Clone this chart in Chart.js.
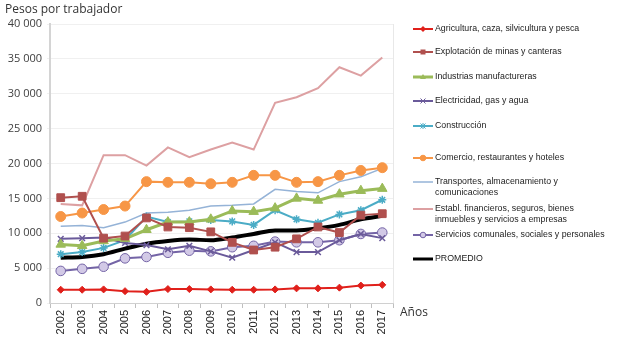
<!DOCTYPE html>
<html><head><meta charset="utf-8">
<script src="https://cdn.jsdelivr.net/npm/chart.js@4/dist/chart.umd.min.js"></script>
<style>
html,body{margin:0;padding:0;background:#fff;}
#wrap{position:relative;width:619px;height:351px;overflow:hidden;}
#c{position:absolute;left:0;top:0;}
.t{position:absolute;font-family:"Open Sans",sans-serif;color:#333;white-space:nowrap;}
.li{position:absolute;left:412px;font-family:"Liberation Sans",Arial,sans-serif;font-size:8.8px;color:#222;line-height:11px;}
.li canvas{position:absolute;left:0;top:0}
.li span{position:absolute;left:23px;top:0;white-space:nowrap}
</style></head>
<body><div id="wrap"><canvas id="c" width="619" height="351"></canvas>
<div class="t" style="left:5px;top:0px;font-size:12px">Pesos por trabajador</div>
<div class="t" style="left:400px;top:303px;font-size:12px">Años</div>
<div id="legend"></div></div>
<script>
const years = ['2002','2003','2004','2005','2006','2007','2008','2009','2010','2011','2012','2013','2014','2015','2016','2017'];
const agricultura = [1900,1900,1950,1700,1600,2000,2000,1950,1900,1900,1950,2100,2100,2200,2500,2600];
const explotacion = [15100,15300,9300,9600,12200,10900,10800,10200,8700,7600,8000,9200,10900,10100,12600,12800];
const industrias = [8400,8200,8900,9200,10500,11600,11600,12000,13200,13100,13600,15000,14700,15600,16100,16400];
const electricidad = [9200,9300,9400,8600,8300,7700,8200,7400,6500,7600,8700,7300,7300,9000,9900,9300];
const construccion = [7000,7300,7900,9000,12400,11600,11700,11900,11700,11200,13300,12000,11500,12700,13300,14800];
const comercio = [12400,12900,13400,13900,17400,17300,17300,17100,17300,18300,18300,17300,17400,18300,19000,19400];
const transportes = [11000,11100,10800,11600,12900,13000,13300,13900,14000,14200,16300,16000,15800,17400,18100,19300];
const establ = [14200,14000,21200,21200,19700,22300,20900,22000,23000,22000,28700,29500,30800,33800,32600,35200];
const servicios = [4600,4900,5200,6400,6600,7200,7500,7400,8000,8200,8800,8700,8700,9000,9900,10100];
const promedio = [6500,6600,7000,7800,8500,8900,9100,9000,9400,9900,10400,10400,10700,11200,12000,12500];
const yTicks = [0,5000,10000,15000,20000,25000,30000,35000,40000];

const series = [
  {label:['Agricultura, caza, silvicultura y pesca'], data:agricultura, color:'#E0201B', bw:2, style:'rectRot', r:3.5, bg:'#E0201B', ly:29},
  {label:['Explotación de minas y canteras'], data:explotacion, color:'#B0504E', bw:2, style:'rect', r:5.5, bg:'#B0504E', ly:52},
  {label:['Industrias manufactureras'], data:industrias, color:'#9BBB59', bw:3, style:'triangle', r:5.5, bg:'#9BBB59', ly:77},
  {label:['Electricidad, gas y agua'], data:electricidad, color:'#6A5A9A', bw:2, style:'crossRot', r:4, bg:'#6A5A9A', ly:101},
  {label:['Construcción'], data:construccion, color:'#4BACC6', bw:2, style:'star', r:4, bg:'#4BACC6', ly:126},
  {label:['Comercio, restaurantes y hoteles'], data:comercio, color:'#F79646', bw:2, style:'circle', r:5, bg:'#F79646', ly:158},
  {label:['Transportes, almacenamiento y','comunicaciones'], data:transportes, color:'#95B3D7', bw:1.5, style:false, r:0, bg:'#95B3D7', ly:182},
  {label:['Establ. financieros, seguros, bienes','inmuebles  y servicios a empresas'], data:establ, color:'#DDA0A2', bw:2, style:false, r:0, bg:'#DDA0A2', ly:209},
  {label:['Servicios comunales, sociales y personales'], data:servicios, color:'#7464A6', bw:2, style:'circle', r:4.8, bg:'#D2C9E6', ly:235},
  {label:['PROMEDIO'], data:promedio, color:'#000000', bw:4, style:false, r:0, bg:'#000', ly:259, smooth:true}
];

const datasets = series.map(s => ({
  label: s.label.join(' '),
  data: s.data,
  borderColor: s.color,
  backgroundColor: s.bg,
  borderWidth: s.bw,
  pointStyle: s.style || 'circle',
  pointRadius: s.r,
  pointBorderColor: s.color,
  pointBackgroundColor: s.bg,
  pointBorderWidth: s.style==='crossRot'||s.style==='star' ? 1.5 : 1,
  tension: s.smooth ? 0.4 : 0,
  cubicInterpolationMode: s.smooth ? 'monotone' : 'default',
  fill:false
}));

const borderPlugin = {
  id:'border',
  beforeDatasetsDraw(chart){
    const a = chart.chartArea, ctx = chart.ctx;
    ctx.save();
    ctx.strokeStyle = '#e8e8e8'; ctx.lineWidth = 1;
    ctx.beginPath(); ctx.moveTo(a.right+0.5, a.top); ctx.lineTo(a.right+0.5, a.bottom); ctx.stroke();
    ctx.restore();
  }
};

new Chart(document.getElementById('c'), {
  type:'line',
  data:{labels:years, datasets},
  options:{
    responsive:false, animation:false,
    layout:{padding:{left:0, top:24, right:226, bottom:0}},
    plugins:{legend:{display:false}, tooltip:{enabled:false}},
    scales:{
      x:{
        offset:true,
        afterFit(s){ s.height = 48; },
        grid:{display:true, drawOnChartArea:false, offset:true, tickLength:5, color:'#bfbfbf'},
        border:{color:'#d0d0d0', width:1},
        ticks:{maxRotation:90, minRotation:90, padding:2, color:'#222', font:{family:'Liberation Sans', size:11}}
      },
      y:{
        min:0, max:40000,
        afterFit(s){ s.width = 50; },
        afterBuildTicks(s){ s.ticks = yTicks.map(v=>({value:v})); },
        grid:{color:'#f0f0f0', tickLength:3},
        border:{color:'#d4d4d4', width:2},
        ticks:{padding:5, color:'#404040', font:{family:'Open Sans', size:11},
          callback:v => String(v).replace(/\B(?=(\d{3})+(?!\d))/g,' ')}
      }
    }
  },
  plugins:[borderPlugin]
});

function drawSym(ctx, s, cx, cy){
  ctx.strokeStyle = s.color; ctx.fillStyle = s.bg;
  ctx.lineWidth = Math.min(s.bw, 3);
  ctx.beginPath(); ctx.moveTo(1, cy); ctx.lineTo(21, cy); ctx.stroke();
  if(!s.style) return;
  const r = Math.min(s.r, 3.5);
  ctx.lineWidth = 1;
  ctx.beginPath();
  switch(s.style){
    case 'circle': ctx.arc(cx,cy,r*0.8,0,Math.PI*2); ctx.fill(); ctx.stroke(); break;
    case 'rect': ctx.rect(cx-2.5,cy-2.5,5,5); ctx.fill(); break;
    case 'rectRot': ctx.moveTo(cx,cy-3);ctx.lineTo(cx+3,cy);ctx.lineTo(cx,cy+3);ctx.lineTo(cx-3,cy);ctx.closePath();ctx.fill();break;
    case 'triangle': ctx.moveTo(cx,cy-3);ctx.lineTo(cx+3,cy+2);ctx.lineTo(cx-3,cy+2);ctx.closePath();ctx.fill();break;
    case 'crossRot': ctx.moveTo(cx-2.5,cy-2.5);ctx.lineTo(cx+2.5,cy+2.5);ctx.moveTo(cx+2.5,cy-2.5);ctx.lineTo(cx-2.5,cy+2.5);ctx.stroke();break;
    case 'star': ctx.moveTo(cx-2.5,cy-2.5);ctx.lineTo(cx+2.5,cy+2.5);ctx.moveTo(cx+2.5,cy-2.5);ctx.lineTo(cx-2.5,cy+2.5);ctx.moveTo(cx,cy-3);ctx.lineTo(cx,cy+3);ctx.stroke();break;
  }
}

const leg = document.getElementById('legend');
series.forEach(s => {
  const d = document.createElement('div');
  d.className = 'li';
  d.style.top = (s.ly - 6) + 'px';
  const cv = document.createElement('canvas');
  cv.width = 22; cv.height = 12;
  d.appendChild(cv);
  drawSym(cv.getContext('2d'), s, 11, 6);
  const sp = document.createElement('span');
  sp.innerHTML = s.label.join('<br>');
  d.appendChild(sp);
  leg.appendChild(d);
});
</script>
</body></html>
